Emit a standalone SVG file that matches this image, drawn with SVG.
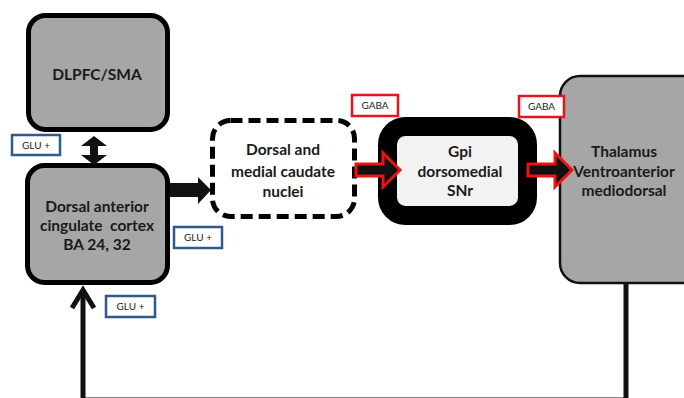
<svg xmlns="http://www.w3.org/2000/svg" width="684" height="398" viewBox="0 0 684 398">
<style>
.lbl{font-family:Lato,"Liberation Sans",sans-serif;font-weight:bold;font-size:15.5px;fill:#1a1a1a;text-anchor:middle;white-space:pre}
.tag{font-family:Lato,"Liberation Sans",sans-serif;font-size:10px;fill:#222;text-anchor:middle}
.glu{fill:#fff;stroke:#2f5a8f;stroke-width:2.5}
.gaba{fill:#fff;stroke:#e8141c;stroke-width:2.5}
.red{fill:#111;stroke:#ee1111;stroke-width:3;stroke-linejoin:miter}
</style>
<rect width="684" height="398" fill="#fff"/>
<g id="dlpfc">
  <rect x="28.5" y="15.5" width="139" height="114" rx="17" fill="#a6a6a6" stroke="#000" stroke-width="5"/>
  <text class="lbl" x="97" y="80">DLPFC/SMA</text>
</g>
<g id="dacc">
  <rect x="27.5" y="165.5" width="140" height="117" rx="17" fill="#a6a6a6" stroke="#000" stroke-width="5"/>
  <text class="lbl" x="97" y="212">Dorsal anterior</text>
  <text class="lbl" x="97" y="231" xml:space="preserve">cingulate  cortex</text>
  <text class="lbl" x="97" y="250">BA 24, 32</text>
</g>
<g id="caudate">
  <rect x="212.5" y="120.5" width="142" height="96" rx="18" fill="#fff" stroke="#000" stroke-width="5" stroke-dasharray="12 6"/>
  <text class="lbl" x="283" y="155">Dorsal and</text>
  <text class="lbl" x="283" y="177">medial caudate</text>
  <text class="lbl" x="283" y="197">nuclei</text>
</g>
<g id="gpi">
  <rect x="387.5" y="126.5" width="140" height="89" rx="18" fill="#f2f2f2" stroke="#000" stroke-width="19"/>
  <text class="lbl" x="460" y="157">Gpi</text>
  <text class="lbl" x="460" y="177">dorsomedial</text>
  <text class="lbl" x="460" y="196">SNr</text>
</g>
<g id="thalamus">
  <rect x="560" y="76" width="150" height="207" rx="20" fill="#a6a6a6" stroke="#111" stroke-width="2.5"/>
  <text class="lbl" x="624" y="157">Thalamus</text>
  <text class="lbl" x="624" y="177">Ventroanterior</text>
  <text class="lbl" x="624" y="196">mediodorsal</text>
</g>
<g id="connectors">
  <path d="M94,136 L107,146 L98,146 L98,155 L107,155 L94,165 L81,155 L90,155 L90,146 L81,146 Z" fill="#111"/>
  <path d="M170,183 L198,183 L198,177 L211,190 L198,204 L198,197 L170,197 Z" fill="#111"/>
  <path class="red" d="M356,164 L383,164 L383,153 L400,170 L383,187 L383,176 L356,176 Z"/>
  <path class="red" d="M528,164 L555,164 L555,153 L572,170 L555,187 L555,176 L528,176 Z"/>
  <path d="M626,284 L626,400 L83,400 L83,290" fill="none" stroke="#111" stroke-width="5"/>
  <path d="M72,308 L83,290 L94,308" fill="none" stroke="#111" stroke-width="5"/>
</g>
<g id="tags">
  <rect class="glu" x="12" y="135" width="48" height="20"/>
  <text class="tag" x="36" y="148.5">GLU +</text>
  <rect class="glu" x="174" y="227" width="48" height="21"/>
  <text class="tag" x="198" y="241">GLU +</text>
  <rect class="glu" x="106" y="296" width="49" height="21"/>
  <text class="tag" x="130.5" y="310">GLU +</text>
  <rect class="gaba" x="352" y="95" width="46" height="21"/>
  <text class="tag" x="375" y="109">GABA</text>
  <rect class="gaba" x="519" y="96" width="45" height="21"/>
  <text class="tag" x="541.5" y="110">GABA</text>
</g>
</svg>
